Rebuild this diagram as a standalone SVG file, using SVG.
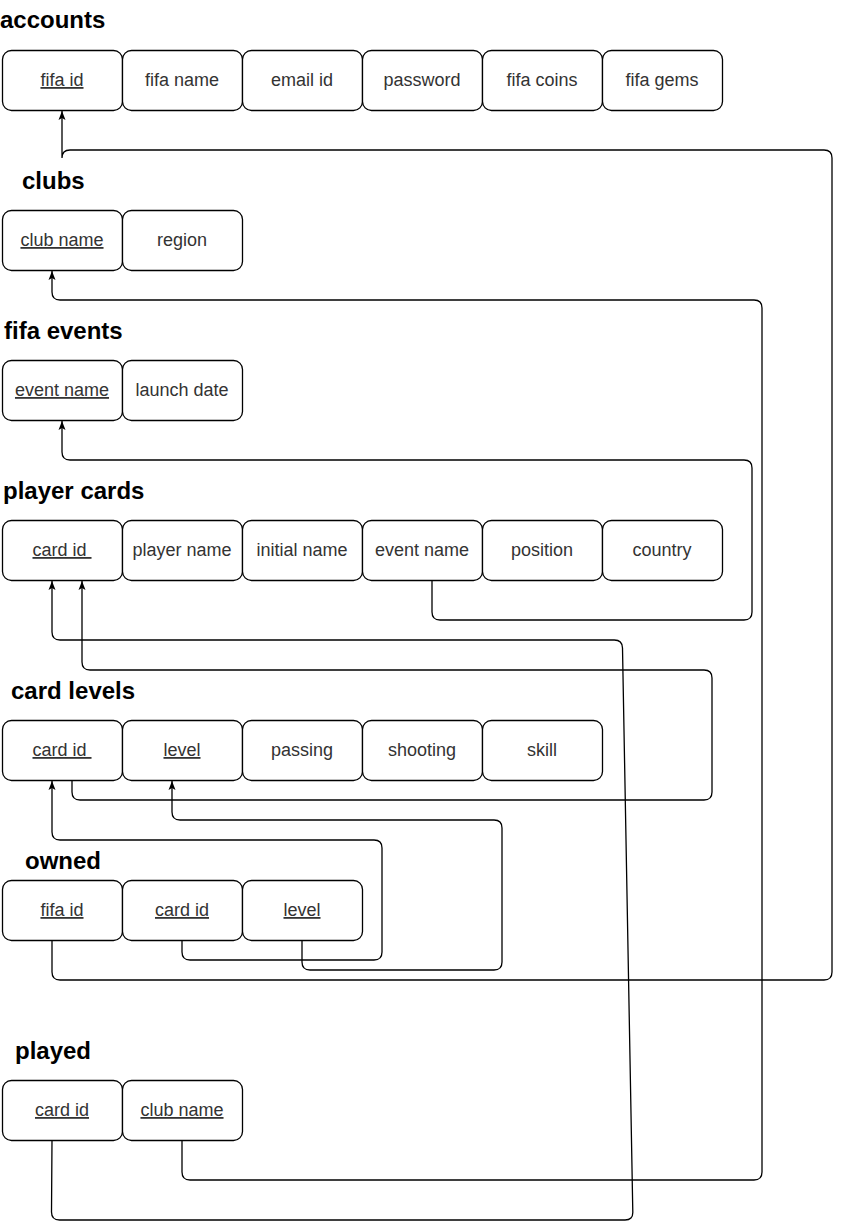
<svg xmlns="http://www.w3.org/2000/svg" width="841" height="1229" viewBox="0 0 841 1229">
<style>
.t{font-family:"Liberation Sans",Arial,Helvetica,sans-serif;font-size:24px;font-weight:bold;fill:#000}
.c rect{fill:#fff;stroke:#000;stroke-width:1.3}
.c text{font-family:"Liberation Sans",Arial,Helvetica,sans-serif;font-size:18px;fill:#333;text-anchor:middle;white-space:pre}
.u{text-decoration:underline}
#connectors path{fill:none;stroke:#000;stroke-width:1.3}
</style>
<defs>
<marker id="arr" markerUnits="userSpaceOnUse" markerWidth="12" markerHeight="12" refX="9" refY="4" orient="auto">
<path d="M0,0.5 L9,4 L0,7.5 L2,4 z" fill="#000"/>
</marker>
</defs>
<rect width="841" height="1229" fill="#fff"/>
<g id="connectors">
<path marker-end="url(#arr)" d="M52,940 L52,972 Q52,980 60,980 L824,980 Q832,980 832,972 L832,158 Q832,150 824,150 L70,150 Q62,150 62,158 L62,111"/>
<path marker-end="url(#arr)" d="M182,1140 L182,1172 Q182,1180 190,1180 L754,1180 Q762,1180 762,1172 L762,308 Q762,300 754,300 L60,300 Q52,300 52,292 L52,271"/>
<path marker-end="url(#arr)" d="M432,580 L432,612 Q432,620 440,620 L744,620 Q752,620 752,612 L752,468 Q752,460 744,460 L70,460 Q62,460 62,452 L62,421"/>
<path marker-end="url(#arr)" d="M52,1140 L51.5,1212 Q51.5,1220 59.5,1220 L625,1220 Q633,1220 632.8,1212 L622.5,648 Q622.3,640 614.3,640 L60,640 Q52,640 52,632 L52,581"/>
<path marker-end="url(#arr)" d="M72,780 L72,792 Q72,800 80,800 L704,800 Q712,800 712,792 L712,678 Q712,670 704,670 L90,670 Q82,670 82,662 L82,581"/>
<path marker-end="url(#arr)" d="M302,940 L302,962 Q302,970 310,970 L494,970 Q502,970 502,962 L502,828 Q502,820 494,820 L180,820 Q172,820 172,812 L172,781"/>
<path marker-end="url(#arr)" d="M182,940 L182,952 Q182,960 190,960 L374,960 Q382,960 382,952 L382,848 Q382,840 374,840 L60,840 Q52,840 52,832 L52,781"/>
</g>
<g id="accounts" class="c">
<text class="t" x="0" y="28" style="text-anchor:start;font-size:24px;font-weight:bold;fill:#000">accounts</text>
<rect x="2.5" y="50.5" width="120" height="60" rx="9"/>
<rect x="122.5" y="50.5" width="120" height="60" rx="9"/>
<rect x="242.5" y="50.5" width="120" height="60" rx="9"/>
<rect x="362.5" y="50.5" width="120" height="60" rx="9"/>
<rect x="482.5" y="50.5" width="120" height="60" rx="9"/>
<rect x="602.5" y="50.5" width="120" height="60" rx="9"/>
<text x="62" y="86" class="u">fifa id</text>
<text x="182" y="86">fifa name</text>
<text x="302" y="86">email id</text>
<text x="422" y="86">password</text>
<text x="542" y="86">fifa coins</text>
<text x="662" y="86">fifa gems</text>
</g>
<g id="clubs" class="c">
<text class="t" x="22" y="189" style="text-anchor:start;font-size:24px;font-weight:bold;fill:#000">clubs</text>
<rect x="2.5" y="210.5" width="120" height="60" rx="9"/>
<rect x="122.5" y="210.5" width="120" height="60" rx="9"/>
<text x="62" y="246" class="u">club name</text>
<text x="182" y="246">region</text>
</g>
<g id="fifa-events" class="c">
<text class="t" x="4" y="339" style="text-anchor:start;font-size:24px;font-weight:bold;fill:#000">fifa events</text>
<rect x="2.5" y="360.5" width="120" height="60" rx="9"/>
<rect x="122.5" y="360.5" width="120" height="60" rx="9"/>
<text x="62" y="396" class="u">event name</text>
<text x="182" y="396">launch date</text>
</g>
<g id="player-cards" class="c">
<text class="t" x="3" y="499" style="text-anchor:start;font-size:24px;font-weight:bold;fill:#000">player cards</text>
<rect x="2.5" y="520.5" width="120" height="60" rx="9"/>
<rect x="122.5" y="520.5" width="120" height="60" rx="9"/>
<rect x="242.5" y="520.5" width="120" height="60" rx="9"/>
<rect x="362.5" y="520.5" width="120" height="60" rx="9"/>
<rect x="482.5" y="520.5" width="120" height="60" rx="9"/>
<rect x="602.5" y="520.5" width="120" height="60" rx="9"/>
<text x="62" y="556" class="u" xml:space="preserve">card id </text>
<text x="182" y="556">player name</text>
<text x="302" y="556">initial name</text>
<text x="422" y="556">event name</text>
<text x="542" y="556">position</text>
<text x="662" y="556">country</text>
</g>
<g id="card-levels" class="c">
<text class="t" x="11" y="699" style="text-anchor:start;font-size:24px;font-weight:bold;fill:#000">card levels</text>
<rect x="2.5" y="720.5" width="120" height="60" rx="9"/>
<rect x="122.5" y="720.5" width="120" height="60" rx="9"/>
<rect x="242.5" y="720.5" width="120" height="60" rx="9"/>
<rect x="362.5" y="720.5" width="120" height="60" rx="9"/>
<rect x="482.5" y="720.5" width="120" height="60" rx="9"/>
<text x="62" y="756" class="u" xml:space="preserve">card id </text>
<text x="182" y="756" class="u">level</text>
<text x="302" y="756">passing</text>
<text x="422" y="756">shooting</text>
<text x="542" y="756">skill</text>
</g>
<g id="owned" class="c">
<text class="t" x="25" y="869" style="text-anchor:start;font-size:24px;font-weight:bold;fill:#000">owned</text>
<rect x="2.5" y="880.5" width="120" height="60" rx="9"/>
<rect x="122.5" y="880.5" width="120" height="60" rx="9"/>
<rect x="242.5" y="880.5" width="120" height="60" rx="9"/>
<text x="62" y="916" class="u">fifa id</text>
<text x="182" y="916" class="u">card id</text>
<text x="302" y="916" class="u">level</text>
</g>
<g id="played" class="c">
<text class="t" x="15" y="1059" style="text-anchor:start;font-size:24px;font-weight:bold;fill:#000">played</text>
<rect x="2.5" y="1080.5" width="120" height="60" rx="9"/>
<rect x="122.5" y="1080.5" width="120" height="60" rx="9"/>
<text x="62" y="1116" class="u">card id</text>
<text x="182" y="1116" class="u">club name</text>
</g>
</svg>
